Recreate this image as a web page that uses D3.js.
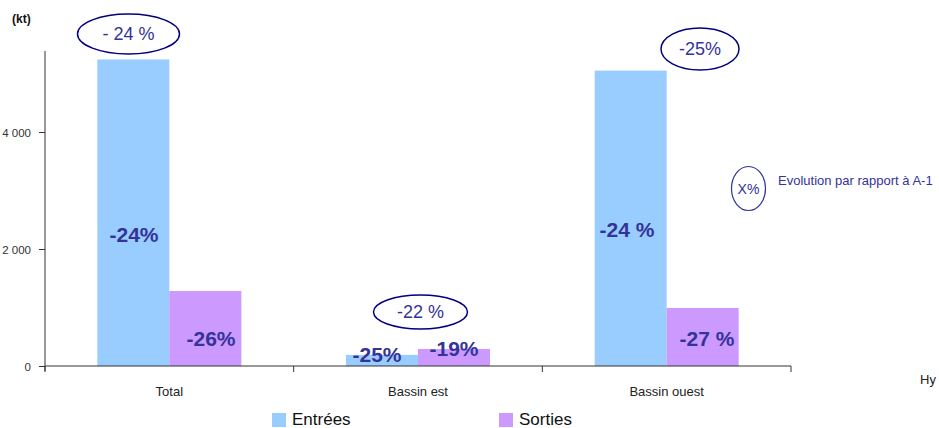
<!DOCTYPE html>
<html>
<head>
<meta charset="utf-8">
<script src="https://cdn.jsdelivr.net/npm/d3@7"></script>
<style>
  body { margin: 0; background: #fff; overflow: hidden; }
  text { font-family: "Liberation Sans", Arial, sans-serif; }
</style>
</head>
<body>
<div id="chart"></div>
<script>
var categories = ["Total", "Bassin est", "Bassin ouest"];
var entrees = [5240, 190, 5050];
var sorties = [1282, 291, 991];
var entreesEvol = ["-24%", "-25%", "-24 %"];
var sortiesEvol = ["-26%", "-19%", "-27 %"];
var totalEvol = ["- 24 %", "-22 %", "-25%"];
var yTicks = [0, 2000, 4000];
var seriesNames = ["Entrées", "Sorties"];
var colors = ["#99ccff", "#cc99ff"];

var svgWidth = 939, svgHeight = 428;
var svg = d3.select("#chart").append("svg")
  .attr("width", svgWidth)
  .attr("height", svgHeight);

var x = d3.scaleBand().domain(categories).range([45, 791]);
var y = d3.scaleLinear().domain([0, 6000]).range([366, 15]);
var inner = d3.scaleBand().domain([0, 1]).range([0, 144]);
var groupOffset = (x.bandwidth() - 144) / 2;

var fmt = d => d3.format(",")(d).replace(",", " ");

// y axis
var yAxis = svg.append("g")
  .attr("transform", "translate(45,0)")
  .call(d3.axisLeft(y).tickValues(yTicks).tickSize(6).tickFormat(fmt));
yAxis.select(".domain").remove();
yAxis.selectAll(".tick line").attr("stroke", "#333");
yAxis.selectAll(".tick text").attr("x", -14).attr("dy", "0.35em")
  .style("font-size", "11.5px").attr("fill", "#333")
  .style("font-family", "'Liberation Sans', Arial, sans-serif");
svg.append("line")
  .attr("x1", 45).attr("x2", 45).attr("y1", 51).attr("y2", 371)
  .attr("stroke", "#333");

svg.append("text").attr("x", 12).attr("y", 23)
  .style("font-size", "12px").style("font-weight", "bold").attr("fill", "#111")
  .text("(kt)");

// bars
var data = categories.map((c, i) => ({ cat: c, vals: [entrees[i], sorties[i]], evol: [entreesEvol[i], sortiesEvol[i]] }));
var groups = svg.selectAll(".grp").data(data).enter().append("g")
  .attr("transform", d => `translate(${x(d.cat) + groupOffset},0)`);

groups.selectAll("rect").data(d => d.vals).enter().append("rect")
  .attr("x", (d, i) => inner(i))
  .attr("width", inner.bandwidth())
  .attr("y", d => y(d))
  .attr("height", d => y(0) - y(d))
  .attr("fill", (d, i) => colors[i]);

// x axis
svg.append("line").attr("x1", 45).attr("x2", 791).attr("y1", 366).attr("y2", 366).attr("stroke", "#333");
var bounds = categories.map(c => x(c)).concat([791]);
svg.selectAll(".xtick").data(bounds).enter().append("line")
  .attr("x1", d => d).attr("x2", d => d).attr("y1", 366).attr("y2", 372).attr("stroke", "#333");
svg.selectAll(".xlab").data(categories).enter().append("text")
  .attr("x", d => x(d) + x.bandwidth() / 2).attr("y", 396)
  .attr("text-anchor", "middle").attr("fill", "#222")
  .style("font-size", "13px")
  .text(d => d);

// bar labels
var labelPos = [
  [[134, 242], [211, 346]],
  [[377, 362], [454, 356]],
  [[627, 237], [707, 346]]
];
data.forEach((d, i) => {
  d.evol.forEach((t, j) => {
    svg.append("text")
      .attr("x", labelPos[i][j][0]).attr("y", labelPos[i][j][1])
      .attr("text-anchor", "middle")
      .style("font-size", "21px").style("font-weight", "bold")
      .attr("fill", "#333399")
      .text(t);
  });
});

// evolution ellipses
var ellipses = [
  { cx: 128.5, cy: 34, rx: 51, ry: 20 },
  { cx: 420.5, cy: 312, rx: 47, ry: 17 },
  { cx: 700, cy: 49, rx: 39, ry: 21 }
];
ellipses.forEach((e, i) => {
  svg.append("ellipse").attr("cx", e.cx).attr("cy", e.cy).attr("rx", e.rx).attr("ry", e.ry)
    .attr("fill", "none").attr("stroke", "#000080").attr("stroke-width", 1.5);
  svg.append("text").attr("x", e.cx).attr("y", e.cy + 6)
    .attr("text-anchor", "middle").attr("fill", "#333399")
    .style("font-size", "18px")
    .text(totalEvol[i]);
});

// annotation legend
svg.append("ellipse").attr("cx", 748.5).attr("cy", 188.5).attr("rx", 17).attr("ry", 22)
  .attr("fill", "none").attr("stroke", "#333399").attr("stroke-width", 1.2);
svg.append("text").attr("x", 748.5).attr("y", 194).attr("text-anchor", "middle")
  .attr("fill", "#333399").style("font-size", "14px").text("X%");
svg.append("text").attr("x", 778).attr("y", 185)
  .attr("fill", "#333399").style("font-size", "13px").text("Evolution par rapport à A-1");

svg.append("text").attr("x", 920).attr("y", 384)
  .attr("fill", "#222").style("font-size", "13px").text("Hy");

// legend
var legendX = [272, 499];
seriesNames.forEach((n, i) => {
  svg.append("rect").attr("x", legendX[i]).attr("y", 413).attr("width", 14).attr("height", 14).attr("fill", colors[i]);
  svg.append("text").attr("x", legendX[i] + 20).attr("y", 425)
    .style("font-size", "17px").attr("fill", "#111").text(n);
});
</script>
</body>
</html>
